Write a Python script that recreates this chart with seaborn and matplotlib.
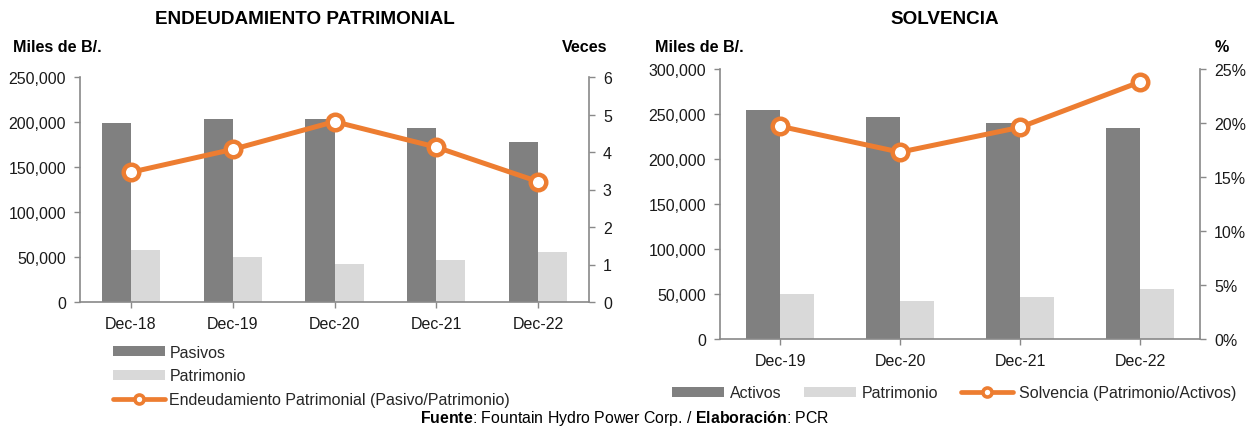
import matplotlib
matplotlib.use("Agg")
import matplotlib.pyplot as plt
import seaborn as sns
import pandas as pd
from matplotlib.ticker import FuncFormatter, MultipleLocator
from matplotlib.patches import Patch
from matplotlib.lines import Line2D

# ---------------- data ----------------
left_years = ["Dec-18", "Dec-19", "Dec-20", "Dec-21", "Dec-22"]
pasivos = [199000, 203700, 203600, 193000, 178200]
patrimonio_left = [57400, 49600, 41900, 46300, 55200]
endeudamiento = [3.46, 4.07, 4.81, 4.13, 3.21]

right_years = ["Dec-19", "Dec-20", "Dec-21", "Dec-22"]
activos = [254500, 246300, 240400, 234500]
patrimonio_right = [50300, 42200, 46600, 55500]
solvencia = [19.7, 17.3, 19.6, 23.8]

# ---------------- style ----------------
sns.set_theme(style="white")
plt.rcParams["font.family"] = ["Liberation Sans", "DejaVu Sans"]
plt.rcParams["mathtext.fontset"] = "custom"
plt.rcParams["mathtext.rm"] = "Liberation Sans"
plt.rcParams["mathtext.bf"] = "Liberation Sans:bold"

DARK = "#808080"
LIGHT = "#D9D9D9"
ORANGE = "#ED7D31"
SPINE = "#898989"
TXT = "#1a1a1a"
FS = 11.5

fig = plt.figure(figsize=(12.49, 4.27), dpi=100)


def style_axes(ax, ax2):
    for a in (ax, ax2):
        a.spines["top"].set_visible(False)
        for s in ("left", "right", "bottom"):
            a.spines[s].set_color(SPINE)
            a.spines[s].set_linewidth(1.2)
        a.grid(False)
    ax.spines["right"].set_visible(False)
    ax2.spines["left"].set_visible(False)
    ax2.spines["bottom"].set_visible(False)
    ax.tick_params(axis="y", direction="out", length=4, width=1, color=SPINE,
                   labelsize=FS, labelcolor=TXT, pad=6, left=True)
    ax.tick_params(axis="x", direction="out", length=4, width=1, color=SPINE,
                   labelsize=FS, labelcolor=TXT, pad=6, bottom=True)
    ax2.tick_params(axis="y", direction="out", length=4, width=1, color=SPINE,
                    labelsize=FS, labelcolor=TXT, pad=6, right=True)
    ax.set_xlabel("")
    ax.set_ylabel("")
    ax2.set_xlabel("")
    ax2.set_ylabel("")


def legend_line():
    return Line2D([], [], color=ORANGE, lw=3.4, marker="o", ms=6.5,
                  mfc="white", mec=ORANGE, mew=2.6)


# ---------------- left chart ----------------
axL = fig.add_axes([80 / 1249, 124 / 427, 509 / 1249, 225 / 427])
dfL = pd.DataFrame({
    "Fecha": left_years * 2,
    "Serie": ["Pasivos"] * len(left_years) + ["Patrimonio"] * len(left_years),
    "Valor": pasivos + patrimonio_left,
})
sns.barplot(data=dfL, x="Fecha", y="Valor", hue="Serie", ax=axL,
            palette={"Pasivos": DARK, "Patrimonio": LIGHT}, width=0.57,
            saturation=1, legend=False, errorbar=None, linewidth=0)
axL2 = axL.twinx()
dfL2 = pd.DataFrame({"Fecha": left_years, "Veces": endeudamiento})
sns.pointplot(data=dfL2, x="Fecha", y="Veces", ax=axL2, color=ORANGE,
              errorbar=None, linewidth=3.6, markersize=11.2,
              markeredgewidth=3.2, markerfacecolor="white",
              markeredgecolor=ORANGE)
axL.set_xlim(-0.5, len(left_years) - 0.5)
axL.set_ylim(0, 250000)
axL.yaxis.set_major_locator(MultipleLocator(50000))
axL.yaxis.set_major_formatter(FuncFormatter(lambda v, p: f"{v:,.0f}"))
axL2.set_ylim(0, 6)
axL2.yaxis.set_major_locator(MultipleLocator(1))
style_axes(axL, axL2)

fig.text(305 / 1249, 1 - 20 / 427, "ENDEUDAMIENTO PATRIMONIAL", ha="center",
         va="center", fontsize=13.6, fontweight="bold", color="black")
fig.text(13 / 1249, 1 - 48 / 427, "Miles de B/.", ha="left", va="center",
         fontsize=11.6, fontweight="bold", color="black")
fig.text(607 / 1249, 1 - 48 / 427, "Veces", ha="right", va="center",
         fontsize=11.6, fontweight="bold", color="black")

hL = [Patch(facecolor=DARK, edgecolor="none"),
      Patch(facecolor=LIGHT, edgecolor="none"),
      legend_line()]
fig.legend(hL, ["Pasivos", "Patrimonio",
                "Endeudamiento Patrimonial (Pasivo/Patrimonio)"],
           loc="upper left", bbox_to_anchor=(108 / 1249, 1 - 341 / 427),
           frameon=False, fontsize=FS, handlelength=3.25, handleheight=0.6,
           handletextpad=0.3, labelspacing=0.54, borderaxespad=0,
           borderpad=0.3)

# ---------------- right chart ----------------
axR = fig.add_axes([720 / 1249, 87 / 427, 480 / 1249, 270 / 427])
dfR = pd.DataFrame({
    "Fecha": right_years * 2,
    "Serie": ["Activos"] * len(right_years) + ["Patrimonio"] * len(right_years),
    "Valor": activos + patrimonio_right,
})
sns.barplot(data=dfR, x="Fecha", y="Valor", hue="Serie", ax=axR,
            palette={"Activos": DARK, "Patrimonio": LIGHT}, width=0.566,
            saturation=1, legend=False, errorbar=None, linewidth=0)
axR2 = axR.twinx()
dfR2 = pd.DataFrame({"Fecha": right_years, "Solvencia": solvencia})
sns.pointplot(data=dfR2, x="Fecha", y="Solvencia", ax=axR2, color=ORANGE,
              errorbar=None, linewidth=3.6, markersize=11.2,
              markeredgewidth=3.2, markerfacecolor="white",
              markeredgecolor=ORANGE)
axR.set_xlim(-0.5, len(right_years) - 0.5)
axR.set_ylim(0, 300000)
axR.yaxis.set_major_locator(MultipleLocator(50000))
axR.yaxis.set_major_formatter(FuncFormatter(lambda v, p: f"{v:,.0f}"))
axR2.set_ylim(0, 25)
axR2.yaxis.set_major_locator(MultipleLocator(5))
axR2.yaxis.set_major_formatter(FuncFormatter(lambda v, p: f"{v:.0f}%"))
style_axes(axR, axR2)

fig.text(945 / 1249, 1 - 20 / 427, "SOLVENCIA", ha="center", va="center",
         fontsize=13.6, fontweight="bold", color="black")
fig.text(655 / 1249, 1 - 48 / 427, "Miles de B/.", ha="left", va="center",
         fontsize=11.6, fontweight="bold", color="black")
fig.text(1222 / 1249, 1 - 48 / 427, "%", ha="center", va="center",
         fontsize=11.6, fontweight="bold", color="black")

hR = [Patch(facecolor=DARK, edgecolor="none"),
      Patch(facecolor=LIGHT, edgecolor="none"),
      legend_line()]
fig.legend(hR, ["Activos", "Patrimonio", "Solvencia (Patrimonio/Activos)"],
           loc="center left", bbox_to_anchor=(668 / 1249, 1 - 394 / 427),
           ncol=3, frameon=False, fontsize=FS, handlelength=3.25,
           handleheight=0.6, handletextpad=0.35, columnspacing=1.45,
           borderaxespad=0, borderpad=0.25)

# ---------------- footer ----------------
fig.text(625 / 1249, 1 - 419 / 427,
         r"$\mathbf{Fuente}$: Fountain Hydro Power Corp. / $\mathbf{Elaboración}$: PCR",
         ha="center", va="center", fontsize=11.4, color="black")

fig.savefig("out.png", dpi=100)
